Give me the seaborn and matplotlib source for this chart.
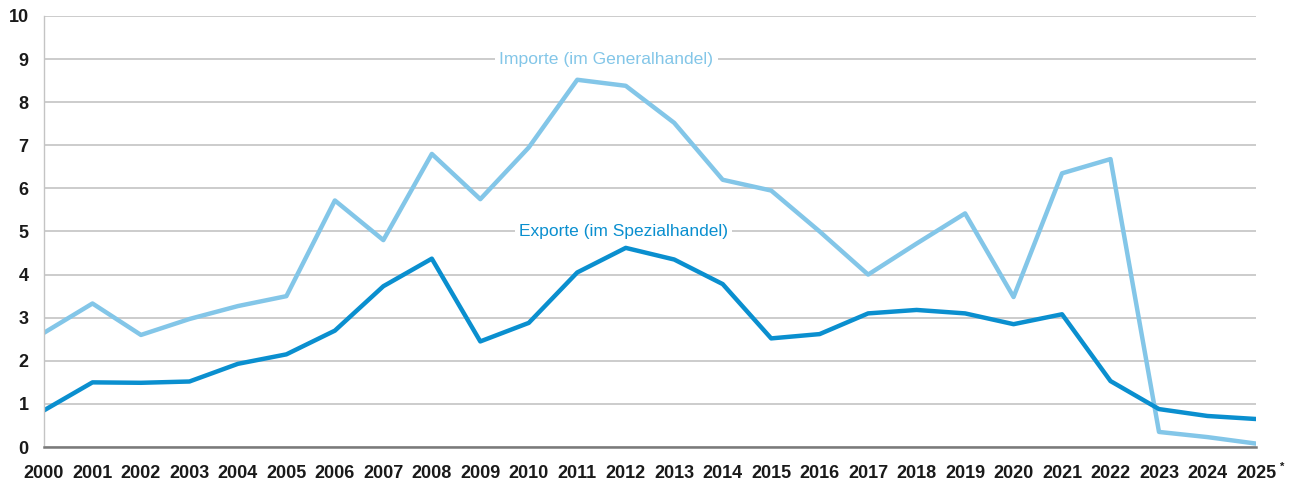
import pandas as pd
import seaborn as sns
import matplotlib
matplotlib.use('Agg')
import matplotlib.pyplot as plt

# --- data ---
years = list(range(2000, 2026))
importe = [2.65, 3.33, 2.60, 2.97, 3.27, 3.50, 5.72, 4.80, 6.80, 5.75, 6.95, 8.52, 8.38,
           7.52, 6.20, 5.95, 5.00, 4.00, 4.72, 5.42, 3.48, 6.35, 6.68, 0.35, 0.23, 0.08]
exporte = [0.85, 1.50, 1.49, 1.52, 1.93, 2.15, 2.70, 3.73, 4.37, 2.45, 2.88, 4.05, 4.62,
           4.35, 3.78, 2.52, 2.62, 3.10, 3.18, 3.10, 2.85, 3.08, 1.53, 0.88, 0.72, 0.65]
tick_labels = [str(y) for y in years]
label_imp = "Importe (im Generalhandel)"
label_exp = "Exporte (im Spezialhandel)"

col_imp = "#83c6e8"
col_exp = "#0a8fcf"

sns.set_theme(style="white")
plt.rcParams['font.family'] = ['Liberation Sans', 'DejaVu Sans']

df = pd.DataFrame({"Jahr": years, "Importe": importe, "Exporte": exporte})

fig = plt.figure(figsize=(12.94, 4.84), dpi=100)
ax = fig.add_axes([0.034, 0.0764, 0.9366, 0.8906])

sns.lineplot(data=df, x="Jahr", y="Importe", color=col_imp, linewidth=3.2, ax=ax)
sns.lineplot(data=df, x="Jahr", y="Exporte", color=col_exp, linewidth=3.2, ax=ax)

ax.set_xlim(2000, 2025)
ax.set_ylim(0, 10)
ax.set_yticks(range(0, 11))
ax.set_xticks(years)
ax.set_xticklabels(tick_labels)
ax.set_xlabel("")
ax.set_ylabel("")

ax.grid(axis="y", color="#c4c4c4", linewidth=1.2)
ax.set_axisbelow(True)
for s in ["top", "right"]:
    ax.spines[s].set_visible(False)
ax.spines["left"].set_color("#c4c4c4")
ax.spines["left"].set_linewidth(1.0)
ax.spines["bottom"].set_color("#7a7a7a")
ax.spines["bottom"].set_linewidth(1.8)

ax.tick_params(axis="y", length=8, width=1.2, color="#c4c4c4", pad=3,
               labelsize=13, labelcolor="#1a1a1a")
ax.tick_params(axis="x", length=8, width=1.0, color="#9a9a9a", pad=5,
               labelsize=13, labelcolor="#1a1a1a")
for t in ax.get_xticklabels() + ax.get_yticklabels():
    t.set_fontweight("bold")

# footnote asterisk on the last year label
ax.annotate("*", xy=(2025, 0), xycoords="data", xytext=(17, -14.5),
            textcoords="offset points", fontsize=8, fontweight="bold",
            color="#1a1a1a", ha="left", va="center", annotation_clip=False)

ax.text(2011.6, 9, label_imp, color=col_imp, fontsize=12.6, ha="center", va="center",
        bbox=dict(facecolor="white", edgecolor="none", pad=3))
ax.text(2011.95, 5, label_exp, color=col_exp, fontsize=12.5, ha="center", va="center",
        bbox=dict(facecolor="white", edgecolor="none", pad=3))

fig.savefig("out.png", dpi=100)
